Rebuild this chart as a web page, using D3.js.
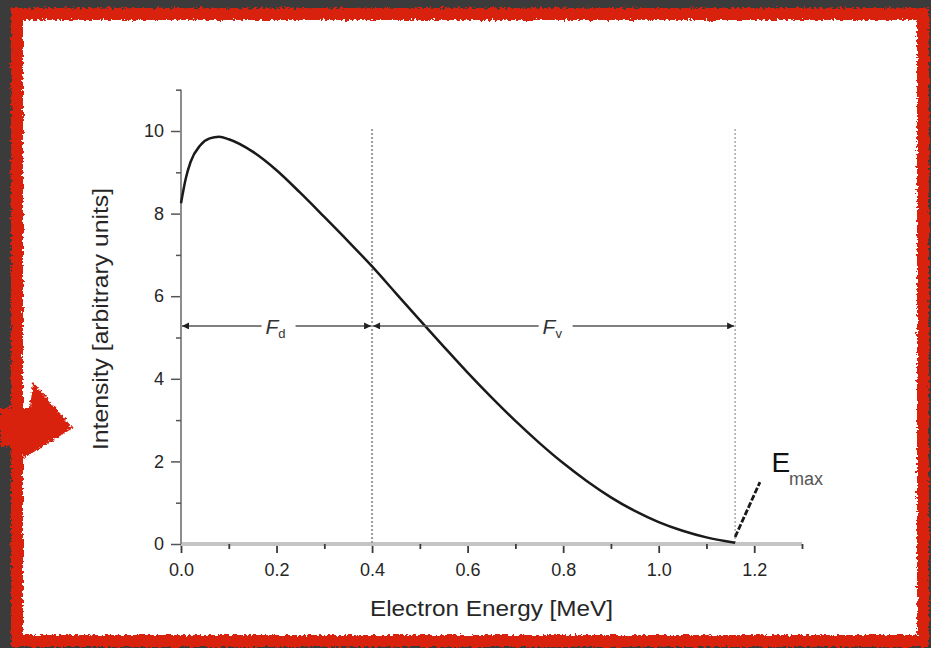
<!DOCTYPE html>
<html>
<head>
<meta charset="utf-8">
<script src="https://cdn.jsdelivr.net/npm/d3@7"></script>
<style>
  html, body { margin: 0; padding: 0; background: #3b3b3b; }
  svg { display: block; }
  text { font-family: "Liberation Sans", Arial, Helvetica, sans-serif; }
</style>
</head>
<body>
<svg id="chart" width="931" height="648"></svg>
<script>
// ---- data ----
const energy    = [0.0, 0.01, 0.02, 0.04, 0.06, 0.08, 0.10, 0.15, 0.20, 0.25, 0.30, 0.35, 0.40, 0.45, 0.50, 0.55, 0.60, 0.65, 0.70, 0.75, 0.80, 0.85, 0.90, 0.95, 1.00, 1.05, 1.10, 1.16];
const intensity = [8.25, 8.85, 9.25, 9.65, 9.82, 9.86, 9.80, 9.50, 9.05, 8.50, 7.92, 7.33, 6.72, 6.07, 5.42, 4.78, 4.15, 3.55, 2.98, 2.45, 1.96, 1.52, 1.13, 0.80, 0.53, 0.32, 0.16, 0.03];
const xTicks = [0.0, 0.2, 0.4, 0.6, 0.8, 1.0, 1.2];
const xMinor = [0.1, 0.3, 0.5, 0.7, 0.9, 1.1, 1.3];
const yTicks = [0, 2, 4, 6, 8, 10];
const yMinor = [1, 3, 5, 7, 9, 11];
const markers = [0.4, 1.16];              // dotted vertical lines (MeV)
const markerTop = 10.05;
const spans = [                            // double arrows
  {from: 0.0, to: 0.4, label: "F", sub: "d"},
  {from: 0.4, to: 1.16, label: "F", sub: "v"}
];
const spanLevel = 5.28;
const emaxPointer = [[1.16, 0.17], [1.212, 1.5]];
const emaxLabel = {x: 1.236, y: 1.74, text: "E", sub: "max"};

const svg = d3.select("#chart");
const W = 931, H = 648;

// ---- decorative frame ----
const defs = svg.append("defs");
const f = defs.append("filter").attr("id", "rough").attr("x", "-5%").attr("y", "-5%").attr("width", "110%").attr("height", "110%");
f.append("feTurbulence").attr("type", "fractalNoise").attr("baseFrequency", "0.35").attr("numOctaves", 2).attr("seed", 3).attr("result", "n");
f.append("feDisplacementMap").attr("in", "SourceGraphic").attr("in2", "n").attr("scale", 6).attr("xChannelSelector", "R").attr("yChannelSelector", "G");

svg.append("rect").attr("width", W).attr("height", H).attr("fill", "#3b3b3b");
svg.append("rect").attr("x", 17).attr("y", 14).attr("width", 906).attr("height", 627)
  .attr("fill", "#ffffff").attr("stroke", "#d8200c").attr("stroke-width", 12).attr("filter", "url(#rough)");
svg.append("path").attr("d", "M0,408 L30,408 L33,382 L73,428 L24,458 L22,446 L0,446 Z")
  .attr("fill", "#d8200c").attr("filter", "url(#rough)");

// ---- scales ----
const x = d3.scaleLinear().domain([0, 1.3]).range([181, 802]);
const y = d3.scaleLinear().domain([0, 11]).range([544, 89.7]);

const textColor = "#262626";

// x axis
const gx = svg.append("g").attr("transform", `translate(0,${y(0)})`);
gx.call(d3.axisBottom(x).tickValues(xTicks).tickFormat(d3.format(".1f")).tickSize(9).tickPadding(10));
gx.append("g").call(d3.axisBottom(x).tickValues(xMinor).tickFormat("").tickSize(5));
gx.selectAll(".domain").attr("stroke", "#c4c4c4").attr("stroke-width", 4).attr("d", `M${x(0)},0H${x(1.3)}`);
gx.selectAll(".tick line").attr("stroke", "#3a3a3a").attr("stroke-width", 1.8);
gx.selectAll(".tick text").attr("font-size", 18).attr("fill", textColor);

// y axis
const gy = svg.append("g").attr("transform", `translate(${x(0)},0)`);
gy.call(d3.axisLeft(y).tickValues(yTicks).tickFormat(d3.format("d")).tickSize(10).tickPadding(7));
gy.append("g").call(d3.axisLeft(y).tickValues(yMinor).tickFormat("").tickSize(5));
gy.selectAll(".domain").attr("stroke", "#8c8c8c").attr("stroke-width", 1.8).attr("d", `M0,${y(0)}V${y(11)}`);
gy.selectAll(".tick line").attr("stroke", "#555").attr("stroke-width", 1.5);
gy.selectAll(".tick text").attr("font-size", 18).attr("fill", textColor);

// axis titles
svg.append("text").attr("x", 491.5).attr("y", 616).attr("text-anchor", "middle")
  .attr("font-size", 22).attr("textLength", 243).attr("lengthAdjust", "spacingAndGlyphs")
  .attr("fill", textColor).text("Electron Energy [MeV]");
svg.append("text").attr("transform", `translate(108,319) rotate(-90)`)
  .attr("text-anchor", "middle").attr("font-size", 22).attr("textLength", 262).attr("lengthAdjust", "spacingAndGlyphs")
  .attr("fill", textColor).text("Intensity [arbitrary units]");

// dotted markers
svg.selectAll("line.marker").data(markers).join("line").attr("class", "marker")
  .attr("x1", d => x(d)).attr("x2", d => x(d)).attr("y1", y(markerTop)).attr("y2", y(0))
  .attr("stroke", "#9a9a9a").attr("stroke-width", (d, i) => i === 0 ? 2 : 1.3).attr("stroke-dasharray", "2,2");

// curve
const pts = energy.map((e, i) => [e, intensity[i]]);
svg.append("path").datum(pts)
  .attr("d", d3.line().x(d => x(d[0])).y(d => y(d[1])).curve(d3.curveMonotoneX))
  .attr("fill", "none").attr("stroke", "#1a1a1a").attr("stroke-width", 2.5);

// E_max pointer
svg.append("path").datum(emaxPointer)
  .attr("d", d3.line().x(d => x(d[0])).y(d => y(d[1])))
  .attr("stroke", "#1a1a1a").attr("stroke-width", 2.8).attr("stroke-dasharray", "6,2");
const em = svg.append("text").attr("x", x(emaxLabel.x)).attr("y", y(emaxLabel.y)).attr("font-size", 28).attr("fill", "#111");
em.append("tspan").text(emaxLabel.text);
em.append("tspan").attr("font-size", 18).attr("dy", 13).attr("dx", -1).attr("fill", "#555").text(emaxLabel.sub);

// span arrows
defs.append("marker").attr("id", "ah").attr("viewBox", "0 0 10 10").attr("refX", 10).attr("refY", 5)
  .attr("markerWidth", 9).attr("markerHeight", 7).attr("markerUnits", "userSpaceOnUse").attr("orient", "auto-start-reverse")
  .append("path").attr("d", "M0,0L10,5L0,10Z").attr("fill", "#222");
const sy = y(spanLevel);
spans.forEach(s => {
  const x1 = x(s.from) + 1, x2 = x(s.to) - 1;
  svg.append("line").attr("x1", x1).attr("x2", x2).attr("y1", sy).attr("y2", sy)
    .attr("stroke", "#555").attr("stroke-width", 1.5)
    .attr("marker-start", "url(#ah)").attr("marker-end", "url(#ah)");
  const cx = (x(s.from) + x(s.to)) / 2;
  svg.append("rect").attr("x", cx - 15).attr("y", sy - 11).attr("width", 34).attr("height", 24).attr("fill", "#fff");
  const t = svg.append("text").attr("x", cx - 11).attr("y", sy + 8).attr("font-size", 21)
    .attr("font-style", "italic").attr("fill", "#333");
  t.append("tspan").text(s.label);
  t.append("tspan").attr("font-size", 13).attr("dy", 4).attr("font-style", "normal").text(s.sub);
});
</script>
</body>
</html>
